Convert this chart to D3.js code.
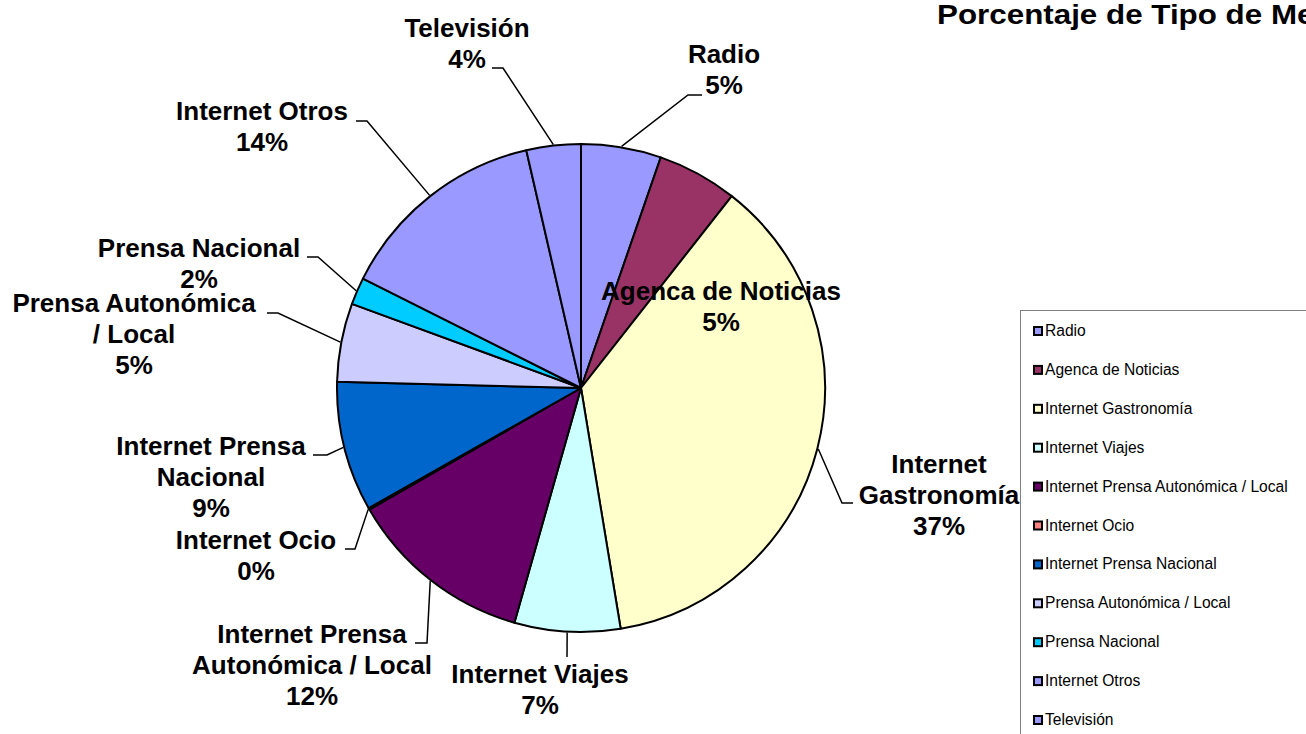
<!DOCTYPE html>
<html>
<head>
<meta charset="utf-8">
<script src="https://cdn.jsdelivr.net/npm/d3@7"></script>
<style>
  body { margin: 0; background: #fff; }
  svg { display: block; font-family: "Liberation Sans", Arial, sans-serif; }
</style>
</head>
<body>
<div id="chart"></div>
<script>
// data
var categories = ["Radio", "Agenca de Noticias", "Internet Gastronomía", "Internet Viajes",
    "Internet Prensa Autonómica / Local", "Internet Ocio", "Internet Prensa Nacional",
    "Prensa Autonómica / Local", "Prensa Nacional", "Internet Otros", "Televisión"];
var values = [5.3, 5.3, 36.8, 7.0, 12.3, 0.1, 8.6, 5.2, 1.8, 14.0, 3.6];
var colors = ["#9999FF", "#993366", "#FFFFCC", "#CCFFFF", "#660066", "#FF8080",
    "#0066CC", "#CCCCFF", "#00CCFF", "#9999FF", "#9999FF"];
// how each data label wraps
var labelLines = [["Radio"], ["Agenca de Noticias"], ["Internet", "Gastronomía"], ["Internet Viajes"],
    ["Internet Prensa", "Autonómica / Local"], ["Internet Ocio"], ["Internet Prensa", "Nacional"],
    ["Prensa Autonómica", "/ Local"], ["Prensa Nacional"], ["Internet Otros"], ["Televisión"]];

// label placement (as dragged in the original workbook)
var labelLayout = [
    {x: 724, y: 63, hook: [[688, 95], [702, 95]]},
    {x: 721, y: 300, hook: null},
    {x: 939, y: 473, hook: [[842, 503], [853, 503]]},
    {x: 540, y: 683, hook: [[567, 657]]},
    {x: 312, y: 643, hook: [[427, 643], [415, 643]]},
    {x: 256, y: 549, hook: [[355, 549], [345, 549]]},
    {x: 211, y: 455, hook: [[327, 455], [313, 455]]},
    {x: 134, y: 312, hook: [[278, 313], [267, 313]]},
    {x: 199, y: 257, hook: [[318, 257], [307, 257]]},
    {x: 262, y: 120, hook: [[367, 121], [356, 121]]},
    {x: 467, y: 37, hook: [[503, 68], [492, 68]]}
];

var svgwidth = 1306, svgheight = 734;
var cx = 581, cy = 388, radius = 244;
var lineH = 31;

var svg = d3.select("#chart")
    .append("svg")
    .attr("width", svgwidth)
    .attr("height", svgheight);

var pie = d3.pie().sort(null).value(function(d) { return d; });
var arc = d3.arc().innerRadius(0).outerRadius(radius);
var arcs = pie(values);

var g = svg.append("g")
    .attr("transform", "translate(" + cx + "," + cy + ")");

g.selectAll(".slice")
    .data(arcs)
    .enter().append("path")
    .attr("class", "slice")
    .attr("d", arc)
    .attr("fill", function(d, i) { return colors[i]; })
    .attr("stroke", "#000")
    .attr("stroke-width", 2)
    .attr("stroke-linejoin", "round");

// leader lines: from the middle of each slice's rim to the label
function rimPoint(d, r) {
    var a = (d.startAngle + d.endAngle) / 2;
    return [cx + r * Math.sin(a), cy - r * Math.cos(a)];
}

var line = d3.line();
svg.append("g").selectAll("path")
    .data(arcs.filter(function(d, i) { return labelLayout[i].hook; }))
    .enter().append("path")
    .attr("d", function(d) {
        var lay = labelLayout[d.index];
        return line([rimPoint(d, radius + 1)].concat(lay.hook));
    })
    .attr("fill", "none")
    .attr("stroke", "#000")
    .attr("stroke-width", 1.5);

var labels = svg.append("g").selectAll("text")
    .data(arcs)
    .enter().append("text")
    .attr("text-anchor", "middle")
    .attr("font-size", 26)
    .attr("font-weight", "bold")
    .attr("fill", "#000");

labels.each(function(d, i) {
    var t = d3.select(this);
    var lay = labelLayout[i];
    var rows = labelLines[i].concat([Math.round(values[i]) + "%"]);
    rows.forEach(function(s, k) {
        t.append("tspan")
            .attr("x", lay.x)
            .attr("y", lay.y + k * lineH)
            .text(s);
    });
});

// title (cut off at the right edge like the original)
svg.append("text")
    .attr("transform", "translate(937,24) scale(1.12,1)")
    .attr("font-size", 28)
    .attr("font-weight", "bold")
    .text("Porcentaje de Tipo de Medios");

// legend
var legX = 1020, legY = 310, rowH = 38.9;
var legend = svg.append("g");
legend.append("rect")
    .attr("x", legX + 0.5)
    .attr("y", legY + 0.5)
    .attr("width", 400)
    .attr("height", 500)
    .attr("fill", "#fff")
    .attr("stroke", "#808080")
    .attr("stroke-width", 1);

var items = legend.selectAll(".item")
    .data(categories)
    .enter().append("g")
    .attr("class", "item")
    .attr("transform", function(d, i) { return "translate(" + legX + "," + (legY + 26 + i * rowH) + ")"; });

items.append("rect")
    .attr("x", 14)
    .attr("y", -9)
    .attr("width", 8)
    .attr("height", 8)
    .attr("fill", function(d, i) { return colors[i]; })
    .attr("stroke", "#000")
    .attr("stroke-width", 2);

items.append("text")
    .attr("x", 25)
    .attr("y", 0)
    .attr("font-size", 15.6)
    .attr("fill", "#000")
    .text(function(d) { return d; });
</script>
</body>
</html>
